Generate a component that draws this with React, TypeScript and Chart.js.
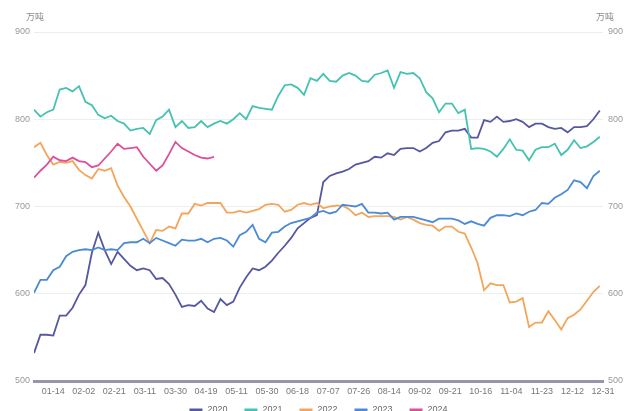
import React, { useEffect, useRef } from 'react';
import { Chart, registerables } from 'chart.js';

Chart.register(...registerables);

const TICK_LABELS = ['01-14', '02-02', '02-21', '03-11', '03-30', '04-19', '05-11', '05-30', '06-18', '07-07', '07-26', '08-14', '09-02', '09-21', '10-16', '11-04', '11-23', '12-12', '12-31'];
const FIRST_TICK = 12;
const TICK_STEP = 19;
const LAST_INDEX = 354;
const SAMPLE_STEP = 4;

const SERIES_NAMES = ['2020', '2021', '2022', '2023', '2024'];
const COLORS = ['#5558a0', '#45c2b1', '#f3a65b', '#4b8ad6', '#dd4f97'];
const UNIT = '万吨';

const V2020 = [532, 553, 553, 552, 575, 575, 584, 599, 610, 647, 670, 650, 634, 648, 640, 632, 627, 629, 627, 617, 618, 611, 599, 585, 587, 586, 592, 583, 579, 594, 587, 591, 607, 619, 629, 627, 631, 638, 647, 655, 664, 675, 681, 687, 690, 728, 735, 738, 740, 743, 748, 750, 752, 757, 756, 761, 759, 766, 767, 767, 763, 767, 773, 775, 785, 787, 787, 789, 779, 779, 799, 797, 803, 797, 798, 800, 797, 791, 795, 795, 791, 789, 790, 785, 791, 791, 792, 800, 810];
const V2021 = [811, 803, 808, 811, 834, 836, 832, 838, 820, 816, 805, 801, 804, 798, 795, 787, 789, 790, 783, 799, 803, 811, 791, 798, 790, 791, 798, 791, 795, 798, 795, 800, 807, 800, 815, 813, 812, 811, 827, 839, 840, 836, 828, 847, 844, 852, 844, 843, 850, 853, 850, 844, 843, 851, 853, 856, 836, 854, 852, 853, 847, 831, 824, 808, 818, 818, 807, 811, 766, 767, 766, 763, 757, 766, 777, 765, 764, 753, 765, 768, 768, 772, 759, 765, 776, 767, 769, 774, 780];
const V2022 = [768, 773, 759, 748, 751, 750, 752, 742, 736, 732, 743, 741, 744, 724, 711, 700, 686, 672, 658, 673, 672, 677, 675, 692, 692, 703, 701, 704, 704, 704, 693, 693, 695, 693, 695, 697, 702, 703, 702, 694, 696, 702, 704, 702, 704, 698, 700, 701, 701, 697, 690, 693, 688, 689, 689, 689, 688, 685, 688, 685, 681, 679, 678, 672, 677, 677, 671, 669, 653, 635, 604, 612, 610, 610, 590, 591, 595, 562, 567, 567, 580, 570, 559, 572, 576, 582, 592, 602, 609];
const V2023 = [601, 616, 616, 627, 631, 643, 648, 650, 651, 650, 653, 650, 651, 650, 658, 659, 659, 663, 658, 664, 661, 658, 655, 662, 661, 661, 663, 659, 663, 664, 661, 654, 667, 671, 679, 663, 659, 670, 671, 677, 681, 683, 685, 687, 693, 695, 692, 694, 702, 701, 700, 703, 693, 693, 692, 693, 685, 688, 688, 688, 686, 684, 682, 686, 686, 686, 684, 680, 683, 680, 678, 687, 690, 690, 689, 692, 690, 694, 696, 704, 703, 710, 714, 719, 730, 728, 721, 735, 741];
const V2024 = [733, 741, 748, 757, 753, 752, 756, 752, 751, 745, 747, 755, 763, 772, 766, 767, 768, 757, 749, 741, 747, 760, 774, 767, 763, 759, 756, 755, 757];

const SERIES_VALUES = [V2020, V2021, V2022, V2023, V2024];

const FONT = '"Liberation Sans", Arial, sans-serif';

const overlayPlugin = {
  id: 'overlay',
  afterDraw(chart: any) {
    const ctx = chart.ctx;
    const area = chart.chartArea;
    ctx.save();
    ctx.font = '9px "Noto Sans CJK SC", sans-serif';
    ctx.fillStyle = '#8a8a8a';
    ctx.textAlign = 'center';
    ctx.textBaseline = 'middle';
    ctx.fillText(UNIT, 35, 17);
    ctx.fillText(UNIT, 605, 17);
    ctx.font = '9px ' + FONT;
    const lineW = 13;
    const gapIn = 5;
    const gapOut = 17;
    const items = chart.data.datasets.map((ds: any) => ({
      label: ds.label,
      color: ds.borderColor,
      w: lineW + gapIn + ctx.measureText(ds.label).width,
    }));
    const total = items.reduce((s: number, it: any) => s + it.w, 0) + gapOut * (items.length - 1);
    let x = (area.left + area.right) / 2 - total / 2;
    const y = 410;
    ctx.textAlign = 'left';
    for (const it of items) {
      ctx.strokeStyle = it.color;
      ctx.lineWidth = 3;
      ctx.beginPath();
      ctx.moveTo(x, y);
      ctx.lineTo(x + lineW, y);
      ctx.stroke();
      ctx.fillStyle = '#666';
      ctx.fillText(it.label, x + lineW + gapIn, y);
      x += it.w + gapOut;
    }
    ctx.restore();
  },
};

export default function App() {
  const ref = useRef<HTMLCanvasElement | null>(null);
  useEffect(() => {
    if (!ref.current) return;
    const datasets = SERIES_NAMES.map((name, k) => ({
      label: name,
      data: SERIES_VALUES[k].map((v, j) => ({ x: j * SAMPLE_STEP, y: v })),
      borderColor: COLORS[k],
      backgroundColor: COLORS[k],
      borderWidth: 1.8,
      pointRadius: 0,
      tension: 0,
      order: SERIES_NAMES.length - 1 - k,
      yAxisID: 'y',
    }));
    const yTicks = (pad: number) => ({
      stepSize: 100,
      color: '#999',
      font: { size: 9, family: FONT },
      padding: pad,
    });
    const chart = new Chart(ref.current, {
      type: 'line',
      data: { datasets },
      plugins: [overlayPlugin],
      options: {
        animation: false,
        responsive: false,
        events: [],
        layout: { padding: { top: 32, left: 0, right: 0, bottom: 0 } },
        plugins: { legend: { display: false }, tooltip: { enabled: false } },
        scales: {
          x: {
            type: 'linear',
            min: 0,
            max: LAST_INDEX,
            afterBuildTicks: (s: any) => {
              s.ticks = TICK_LABELS.map((_, k) => ({ value: FIRST_TICK + k * TICK_STEP }));
            },
            afterFit: (s: any) => {
              s.height = 30;
            },
            ticks: {
              autoSkip: false,
              maxRotation: 0,
              color: '#777',
              font: { size: 9, family: FONT },
              padding: 5,
              callback: (v: any) => {
                const k = Math.round((Number(v) - FIRST_TICK) / TICK_STEP);
                return TICK_LABELS[k] ?? '';
              },
            },
            grid: { display: false, drawTicks: false },
            border: { color: '#9696ab', width: 3 },
          },
          y: {
            position: 'left',
            min: 500,
            max: 900,
            afterFit: (s: any) => {
              s.width = 34;
            },
            ticks: yTicks(4),
            grid: { color: '#eeeeee', drawTicks: false },
            border: { display: false },
          },
          y2: {
            position: 'right',
            min: 500,
            max: 900,
            afterFit: (s: any) => {
              s.width = 37;
            },
            ticks: yTicks(5),
            grid: { display: false, drawTicks: false },
            border: { display: false },
          },
        },
      } as any,
    });
    return () => chart.destroy();
  }, []);
  return (
    <div style={{ position: 'absolute', left: 0, top: 0, width: 640, height: 411, background: '#fff' }}>
      <canvas ref={ref} width={640} height={411} style={{ width: 640, height: 411, display: 'block' }} />
    </div>
  );
}
